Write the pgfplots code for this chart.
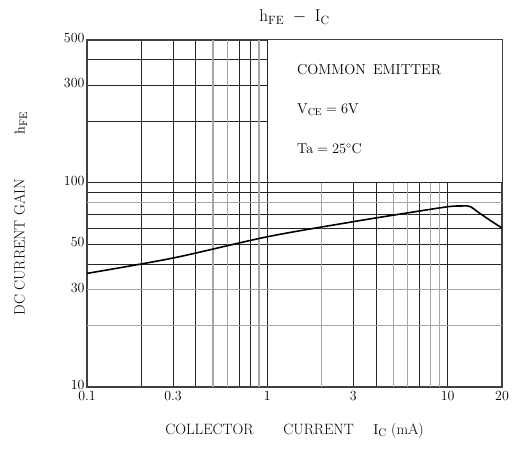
\documentclass[border=0pt]{standalone}
\usepackage{pgfplots}
\pgfplotsset{compat=1.18}

\begin{document}
\begin{tikzpicture}[x=1bp,y=1bp]
\begin{axis}[
  at={(0,0)}, anchor=south west,
  scale only axis, width=415bp, height=347bp,
  xmode=log, ymode=log,
  xmin=0.1, xmax=20, ymin=10, ymax=500,
  xtick={0.1,0.2,0.3,0.4,0.7,0.8,1,3,4,7,10,20},
  xticklabels={0.1,,0.3,,,,1,3,,,10,20},
  ytick={10,40,50,60,70,90,100,200,300,400,500},
  yticklabels={10,,50,,,,100,,300,,500},
  extra x ticks={0.5,0.6,0.9,2,5,6,8,9},
  extra x tick labels={},
  extra y ticks={20,30,80},
  extra y tick labels={,30,},
  extra tick style={grid style={black!35,line width=1.4pt}},
  xmajorgrids, ymajorgrids,
  grid style={black!85,line width=0.7pt},
  tick style={draw=none},
  axis line style={black!75,line width=1.6pt},
  tick label style={font=\fontsize{14}{16}\selectfont},
  yticklabel style={xshift=1pt,yshift=2pt},
  xticklabel style={yshift=-1pt},
  xlabel={COLLECTOR\qquad CURRENT\quad\ $\mathrm{I_C}$ (mA)},
  ylabel={DC CURRENT GAIN\hspace{3em}$\mathrm{h_{FE}}$},
  label style={font=\fontsize{15}{17}\selectfont},
  xlabel style={yshift=-15pt},
  ylabel style={yshift=30pt},
  title={$\mathrm{h_{FE}\;-\;I_C}$},
  title style={font=\fontsize{17}{19}\selectfont, yshift=6pt},
]
\fill[white] (axis cs:1,100) rectangle (axis cs:20,500);
\draw[black!85,line width=1pt] (axis cs:1,100) -- (axis cs:1,500);
\draw[black!85,line width=1pt] (axis cs:1,100) -- (axis cs:20,100);
\node[anchor=west,font=\fontsize{14.5}{16}\selectfont] at (axis cs:1.40,359) {COMMON\, EMITTER};
\node[anchor=west,font=\fontsize{14.5}{16}\selectfont] at (axis cs:1.40,229) {$\mathrm{V_{CE}=6V}$};
\node[anchor=west,font=\fontsize{14.5}{16}\selectfont] at (axis cs:1.40,147) {$\mathrm{Ta=25^{\circ}C}$};
\addplot[black,line width=1.6pt,smooth] coordinates {
  (0.1,36) (0.3,42.8) (1,54.4) (3,64.5) (6,71.2) (10,76.3) (12,77) (13.3,76.5)
  (15,71) (17.5,64.8) (20,60)};
\end{axis}
\pgfresetboundingbox
\path[use as bounding box] (-87bp,-62bp) rectangle (442bp,387bp);
\end{tikzpicture}
\end{document}
